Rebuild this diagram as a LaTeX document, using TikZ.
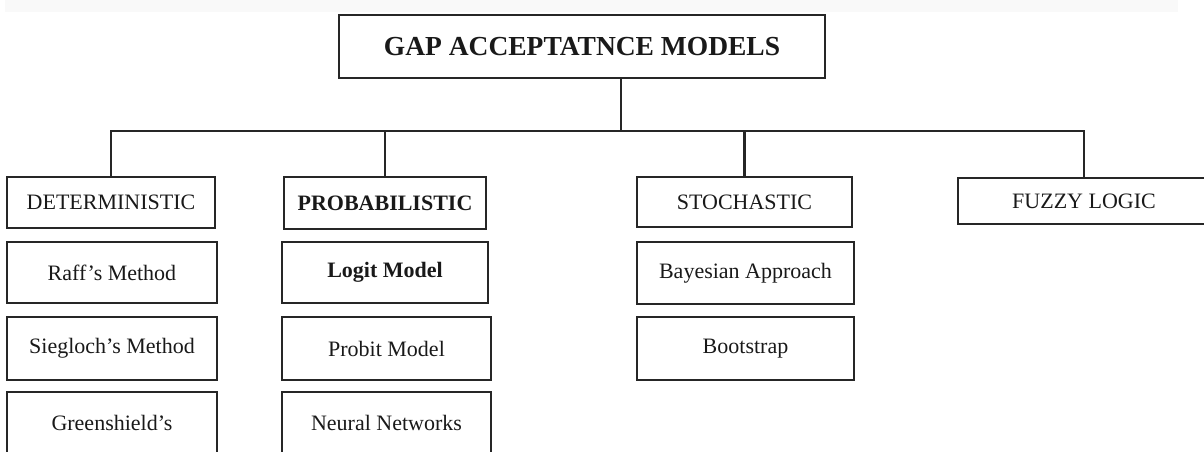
\documentclass[tikz,border=0pt]{standalone}
\usepackage{fontspec}
\setmainfont{Liberation Serif}
\begin{document}
\begin{tikzpicture}[x=1pt,y=-1pt,
  box/.style={draw=black!85,line width=2.2pt,rectangle,inner sep=0pt,
    font=\fontsize{22}{26}\selectfont,text=black!90},
  conn/.style={draw=black!85,line width=2.2pt}]
\useasboundingbox (0,0) rectangle (1204,451);
\clip (0,0) rectangle (1204,451);
\fill[gray!5] (5,0) rectangle (1178,12);
\node[box,minimum width=486pt,minimum height=63pt,font=\fontsize{27.5}{32}\selectfont\bfseries] (top) at (582,46.5) {GAP ACCEPTATNCE MODELS};
\node[box,minimum width=208pt,minimum height=51pt] (det) at (111,202.5) {DETERMINISTIC};
\node[box,minimum width=202pt,minimum height=52pt,font=\fontsize{22}{26}\selectfont\bfseries] (prob) at (385,203) {PROBABILISTIC};
\node[box,minimum width=215pt,minimum height=50pt] (stoch) at (744.5,202) {STOCHASTIC};
\node[box,minimum width=252pt,minimum height=46pt] (fuzzy) at (1084,201) {FUZZY LOGIC};
\node[box,minimum width=210pt,minimum height=61pt] (raff) at (112,272.5) {Raff’s Method};
\node[box,minimum width=210pt,minimum height=63pt] (sieg) at (112,348.5) {Siegloch’s Method};
\node[box,minimum width=210pt,minimum height=62pt] (green) at (112,423) {Greenshield’s};
\node[box,minimum width=206pt,minimum height=61pt,font=\fontsize{22}{26}\selectfont\bfseries] (logit) at (385,272.5) {Logit Model};
\node[box,minimum width=209pt,minimum height=63pt] (probit) at (386.5,348.5) {Probit Model};
\node[box,minimum width=209pt,minimum height=62pt] (neural) at (386.5,423) {Neural Networks};
\node[box,minimum width=217pt,minimum height=62pt] (bayes) at (745.5,273) {Bayesian Approach};
\node[box,minimum width=217pt,minimum height=63pt] (boot) at (745.5,348.5) {Bootstrap};
\coordinate (bus) at (621,131);
\draw[conn] ([xshift=39pt]top.south) -- (bus);
\draw[conn] (det.north) |- (bus) -| (fuzzy.north);
\draw[conn] (prob.north) -- (prob.north |- bus);
\draw[conn] (stoch.north) -- (stoch.north |- bus);
\end{tikzpicture}
\end{document}
